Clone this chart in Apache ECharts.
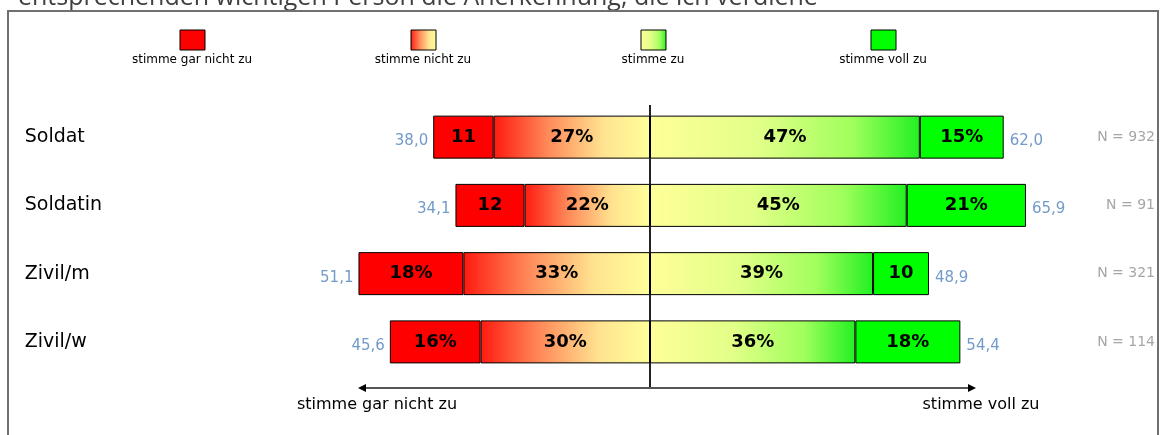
<!DOCTYPE html>
<html>
<head>
<meta charset="utf-8">
<script src="https://cdn.jsdelivr.net/npm/echarts@6/dist/echarts.min.js"></script>
<style>
  html, body { margin: 0; padding: 0; background: #fff; }
  #main { width: 1160px; height: 435px; }
</style>
</head>
<body>
<div id="main"></div>
<script>
// Kategorien und Anteile (in %)
var categories = ['Soldat', 'Soldatin', 'Zivil/m', 'Zivil/w'];
var garNicht = [10.6, 12.1, 18.4, 15.9];   // stimme gar nicht zu
var nicht    = [27.4, 22.0, 32.7, 29.7];   // stimme nicht zu
var zu       = [47.3, 45.0, 39.1, 36.0];   // stimme zu
var voll     = [14.7, 20.9, 9.8, 18.4];    // stimme voll zu
var negSums  = [38.0, 34.1, 51.1, 45.6];
var posSums  = [62.0, 65.9, 48.9, 54.4];
var nCounts  = [932, 91, 321, 114];
var legendNames = ['stimme gar nicht zu', 'stimme nicht zu', 'stimme zu', 'stimme voll zu'];

var font = 'DejaVu Sans, Arial, sans-serif';

function grad(stops) {
    return new echarts.graphic.LinearGradient(0, 0, 1, 0, stops);
}
var colRed = '#ff0000';
var colOrange = grad([
    { offset: 0, color: '#ff1a10' },
    { offset: 0.35, color: '#ff8a5a' },
    { offset: 0.7, color: '#ffe390' },
    { offset: 1, color: '#ffff99' }
]);
var colYellow = grad([
    { offset: 0, color: '#ffff99' },
    { offset: 0.4, color: '#e2ff88' },
    { offset: 0.75, color: '#a0ff5c' },
    { offset: 1, color: '#22f022' }
]);
var colGreen = '#00ff00';

function pctLabel(p) {
    var v = Math.abs(p.value);
    var r = Math.round(v);
    return v < 13 ? String(r) : r + '%';
}

var barLabel = {
    show: true,
    position: 'inside',
    formatter: pctLabel,
    color: '#000',
    fontWeight: 'bold',
    fontSize: 18,
    fontFamily: font
};

function barSeries(name, values, sign, color) {
    return {
        name: name,
        type: 'bar',
        stack: 'total',
        barWidth: 43,
        data: values.map(function (v) { return sign * v; }),
        itemStyle: { color: color, borderColor: '#000', borderWidth: 1 },
        label: barLabel,
        emphasis: { disabled: true }
    };
}

var myChart = echarts.init(document.getElementById('main'));

var option = {
    animation: false,
    grid: { left: 307.7, right: 110.65, top: 103, height: 273 },
    xAxis: {
        type: 'value',
        min: -60,
        max: 70,
        show: false
    },
    yAxis: [{
        type: 'category',
        data: categories,
        inverse: true,
        axisLine: { show: false },
        axisTick: { show: false },
        axisLabel: {
            align: 'left',
            margin: 283,
            color: '#000',
            fontSize: 19,
            fontFamily: font
        }
    }, {
        type: 'category',
        position: 'right',
        data: nCounts.map(function (n) { return 'N = ' + n; }),
        inverse: true,
        axisLine: { show: false },
        axisTick: { show: false },
        axisLabel: {
            align: 'right',
            margin: 105.65,
            color: '#a6a6a6',
            fontSize: 14,
            fontFamily: font,
            padding: [6, 0, 0, 0]
        }
    }],
    series: [
        // negative Seite: zuerst die Mitte, dann nach außen
        barSeries('stimme nicht zu', nicht, -1, colOrange),
        barSeries('stimme gar nicht zu', garNicht, -1, colRed),
        barSeries('stimme zu', zu, 1, colYellow),
        barSeries('stimme voll zu', voll, 1, colGreen),
        {
            type: 'scatter',
            symbolSize: 0,
            data: negSums.map(function (v, i) { return [-v, categories[i]]; }),
            label: {
                show: true,
                position: 'left',
                distance: 5,
                offset: [0, 4],
                color: '#4f81bd',
                fontSize: 15,
                fontFamily: font,
                formatter: function (p) { return Math.abs(p.value[0]).toFixed(1).replace('.', ','); }
            }
        },
        {
            type: 'scatter',
            symbolSize: 0,
            data: posSums.map(function (v, i) { return [v, categories[i]]; }),
            label: {
                show: true,
                position: 'right',
                distance: 6,
                offset: [0, 4],
                color: '#4f81bd',
                fontSize: 15,
                fontFamily: font,
                formatter: function (p) { return p.value[0].toFixed(1).replace('.', ','); }
            }
        }
    ]
};

myChart.setOption(option);

// Rahmen, Titel, Legende, Mittellinie und Pfeil
var x0 = myChart.convertToPixel({ xAxisIndex: 0 }, 0);
var legendColors = [colRed, colOrange, colYellow, colGreen];
var legendX = [192, 423, 653, 883];
var graphics = [
    {
        type: 'text',
        left: 18,
        top: -15,
        style: {
            text: 'entsprechenden wichtigen Person die Anerkennung, die ich verdiene',
            fill: '#404040',
            font: '25px "Open Sans", sans-serif'
        }
    },
    {
        type: 'rect',
        shape: { x: 8, y: 11, width: 1150, height: 460 },
        style: { fill: null, stroke: '#707070', lineWidth: 2 }
    },
    {
        type: 'line',
        shape: { x1: x0, y1: 105, x2: x0, y2: 388 },
        style: { stroke: '#222', lineWidth: 2 }
    },
    {
        type: 'line',
        shape: { x1: 362, y1: 388, x2: 972, y2: 388 },
        style: { stroke: '#555', lineWidth: 2 }
    },
    {
        type: 'polygon',
        shape: { points: [[358, 388], [366, 384], [366, 392]] },
        style: { fill: '#000' }
    },
    {
        type: 'polygon',
        shape: { points: [[976, 388], [968, 384], [968, 392]] },
        style: { fill: '#000' }
    },
    {
        type: 'text',
        x: 377, y: 405,
        style: { text: 'stimme gar nicht zu', fill: '#000', font: '16px ' + font, align: 'center', verticalAlign: 'middle' }
    },
    {
        type: 'text',
        x: 981, y: 405,
        style: { text: 'stimme voll zu', fill: '#000', font: '16px ' + font, align: 'center', verticalAlign: 'middle' }
    }
];
legendNames.forEach(function (name, i) {
    graphics.push({
        type: 'rect',
        shape: { x: legendX[i] - 12, y: 30, width: 25, height: 20 },
        style: { fill: legendColors[i], stroke: '#000', lineWidth: 1 }
    });
    graphics.push({
        type: 'text',
        x: legendX[i], y: 60,
        style: { text: name, fill: '#000', font: '12px ' + font, align: 'center', verticalAlign: 'middle' }
    });
});
myChart.setOption({ graphic: graphics });
</script>
</body>
</html>
